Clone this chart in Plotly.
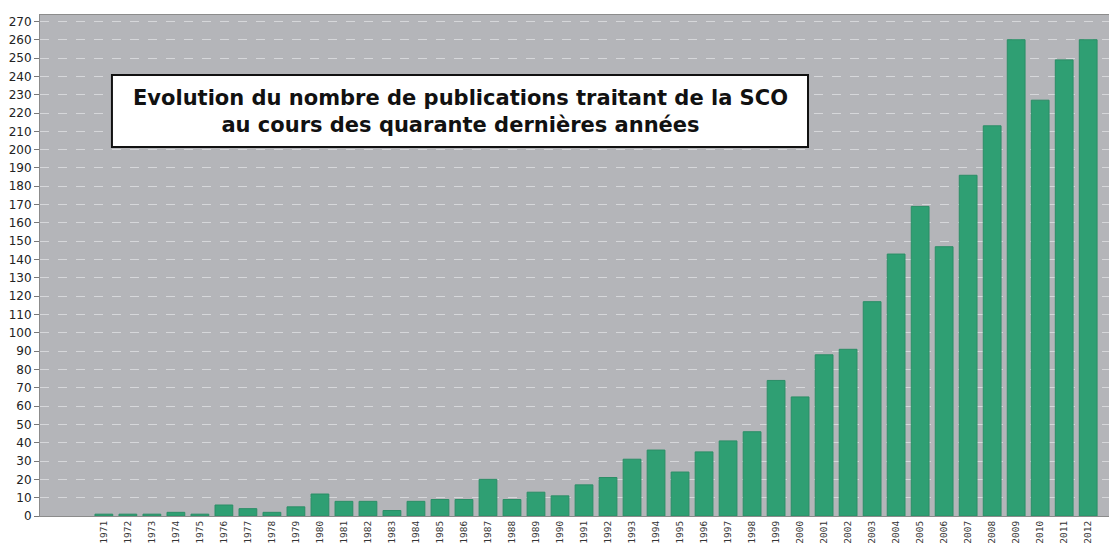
import plotly.graph_objects as go

years = list(range(1971, 2013))
publications = [1, 1, 1, 2, 1, 6, 4, 2, 5, 12,
                8, 8, 3, 8, 9, 9, 20, 9, 13, 11,
                17, 21, 31, 36, 24, 35, 41, 46, 74, 65,
                88, 91, 117, 143, 169, 147, 186, 213, 260, 227,
                249, 260]
y_ticks = list(range(0, 271, 10))
title_text = ("Evolution du nombre de publications traitant de la SCO<br>"
              "au cours des quarante dernières années")

fig = go.Figure()
fig.add_trace(go.Bar(
    x=years, y=publications, width=0.74,
    marker=dict(color="#2f9f73", line=dict(color="#2a8e66", width=1)),
    hoverinfo="x+y",
))

fig.update_layout(
    width=1109, height=536,
    margin=dict(l=32, r=0, t=7, b=28),
    paper_bgcolor="white",
    plot_bgcolor="#b4b5b9",
    showlegend=False,
    font=dict(family="DejaVu Sans", color="#222"),
    xaxis=dict(
        range=[1968.34, 2013.2],
        tickmode="array", tickvals=years, ticktext=[str(y) for y in years],
        tickangle=-90, tickfont=dict(size=9.5, color="#333", family="DejaVu Sans Mono"),
        showgrid=False, zeroline=False, automargin=False,
        showline=True, linecolor="#8c8c8c", linewidth=1, mirror=True,
        ticks="", ticklabelstandoff=0,
    ),
    yaxis=dict(
        range=[0, 273.5],
        tickmode="array", tickvals=y_ticks,
        tickfont=dict(size=12, color="#222"),
        showgrid=True, gridcolor="#d6d7da", griddash="dash", gridwidth=1,
        zeroline=False, automargin=False,
        showline=True, linecolor="#8c8c8c", linewidth=1, mirror=True,
        ticks="outside", ticklen=5, tickcolor="#777",
    ),
    shapes=[dict(
        type="rect", xref="paper", yref="paper",
        x0=0.0668, x1=0.7131, y0=0.7365, y1=0.880,
        line=dict(color="#111", width=2), fillcolor="white", layer="above",
    )],
    annotations=[dict(
        xref="paper", yref="paper", x=0.39, y=0.808,
        text=title_text, showarrow=False, align="center",
        font=dict(family="DejaVu Sans", size=21, color="#111", weight="bold"),
        xanchor="center", yanchor="middle",
    )],
)

fig.write_html("out.html")
